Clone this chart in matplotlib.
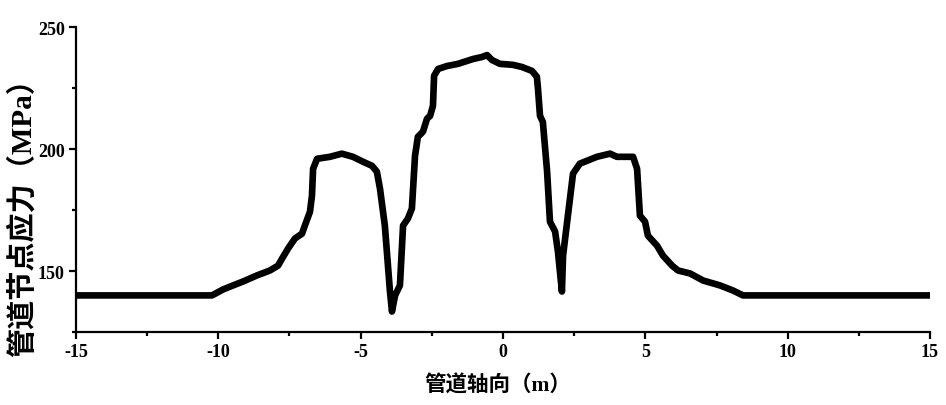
import matplotlib
matplotlib.use("Agg")
import matplotlib.pyplot as plt
from matplotlib.ticker import MultipleLocator


x_vals = [
    -15.0, -10.22, -9.84, -9.48, -9.13, -8.64, -8.19, -7.90, -7.76, -7.55,
    -7.31, -7.06, -6.96, -6.78, -6.71, -6.67, -6.53, -6.08, -5.66, -5.27,
    -4.92, -4.60, -4.43, -4.32, -4.15, -3.97, -3.90, -3.79, -3.62, -3.51,
    -3.34, -3.20, -3.09, -2.99, -2.81, -2.67, -2.56, -2.46, -2.42, -2.28,
    -1.97, -1.58, -1.05, -0.74, -0.56, -0.39, -0.11, 0.35, 0.67, 1.02,
    1.19, 1.23, 1.30, 1.40, 1.55, 1.65, 1.83, 1.93, 2.07, 2.11,
    2.28, 2.46, 2.70, 3.30, 3.76, 4.00, 4.57, 4.71, 4.81, 4.99,
    5.09, 5.41, 5.62, 5.94, 6.15, 6.57, 7.03, 7.62, 8.08, 8.43,
    15.0,
]
stress_vals = [
    140.0, 140.0, 142.4, 144.1, 145.7, 148.2, 150.2, 152.2, 155.1, 159.2,
    163.3, 165.3, 168.6, 174.3, 180.9, 191.9, 196.0, 196.8, 198.1, 196.8,
    194.8, 193.1, 190.7, 183.7, 168.6, 141.6, 133.4, 140.0, 144.1, 168.6,
    171.5, 175.6, 197.2, 205.0, 207.1, 212.4, 213.6, 217.7, 230.0, 232.8,
    234.0, 234.9, 236.9, 237.7, 238.5, 236.5, 234.9, 234.5, 233.6, 232.0,
    229.6, 224.6, 213.6, 211.1, 190.7, 170.2, 166.2, 158.0, 141.6, 156.3,
    172.7, 189.9, 194.0, 196.8, 198.1, 196.8, 196.8, 191.9, 172.7, 170.2,
    164.5, 160.4, 156.3, 152.2, 150.2, 149.0, 146.1, 144.1, 142.0, 140.0,
    140.0,
]

x_ticks = [-15, -10, -5, 0, 5, 10, 15]
y_ticks = [150, 200, 250]
x_label = "管道轴向（m）"
y_label = "管道节点应力（MPa）"


# Zeichnet die Kurve.
def plot_all():
    fonts = ["Liberation Serif", "Noto Sans CJK SC"]
    plt.rcParams["font.family"] = fonts
    plt.rcParams["font.weight"] = "bold"
    plt.rcParams["axes.unicode_minus"] = False

    fig = plt.figure(figsize=(9.46, 4.06), dpi=100)
    ax = fig.add_axes([0.0803, 0.1798, 0.9028, 0.7512])

    ax.plot(x_vals, stress_vals, color="black", linewidth=4.8,
            solid_joinstyle="round", solid_capstyle="butt")

    ax.set_xlim(-15, 15)
    ax.set_ylim(125, 250)
    ax.set_xticks(x_ticks)
    ax.set_yticks(y_ticks)
    ax.xaxis.set_minor_locator(MultipleLocator(2.5))
    ax.yaxis.set_minor_locator(MultipleLocator(25))

    for side in ["top", "right"]:
        ax.spines[side].set_visible(False)
    for side in ["left", "bottom"]:
        ax.spines[side].set_linewidth(1.6)

    ax.tick_params(which="major", direction="out", length=5, width=1.6,
                   labelsize=13, pad=3)
    ax.tick_params(which="minor", direction="out", length=3, width=1.6)
    for lbl in ax.get_xticklabels() + ax.get_yticklabels():
        lbl.set_fontweight("bold")

    ax.set_xlabel(x_label, fontsize=15.5, fontweight="bold")
    ax.set_ylabel(y_label, fontsize=21, fontweight="bold")
    ax.xaxis.set_label_coords(0.494, -0.174)
    ax.xaxis.label.set_verticalalignment("center")
    ax.yaxis.set_label_coords(-0.062, 0.40)
    ax.yaxis.label.set_verticalalignment("center")

    fig.savefig("out.png", dpi=100)


if __name__ == "__main__":
    plot_all()
